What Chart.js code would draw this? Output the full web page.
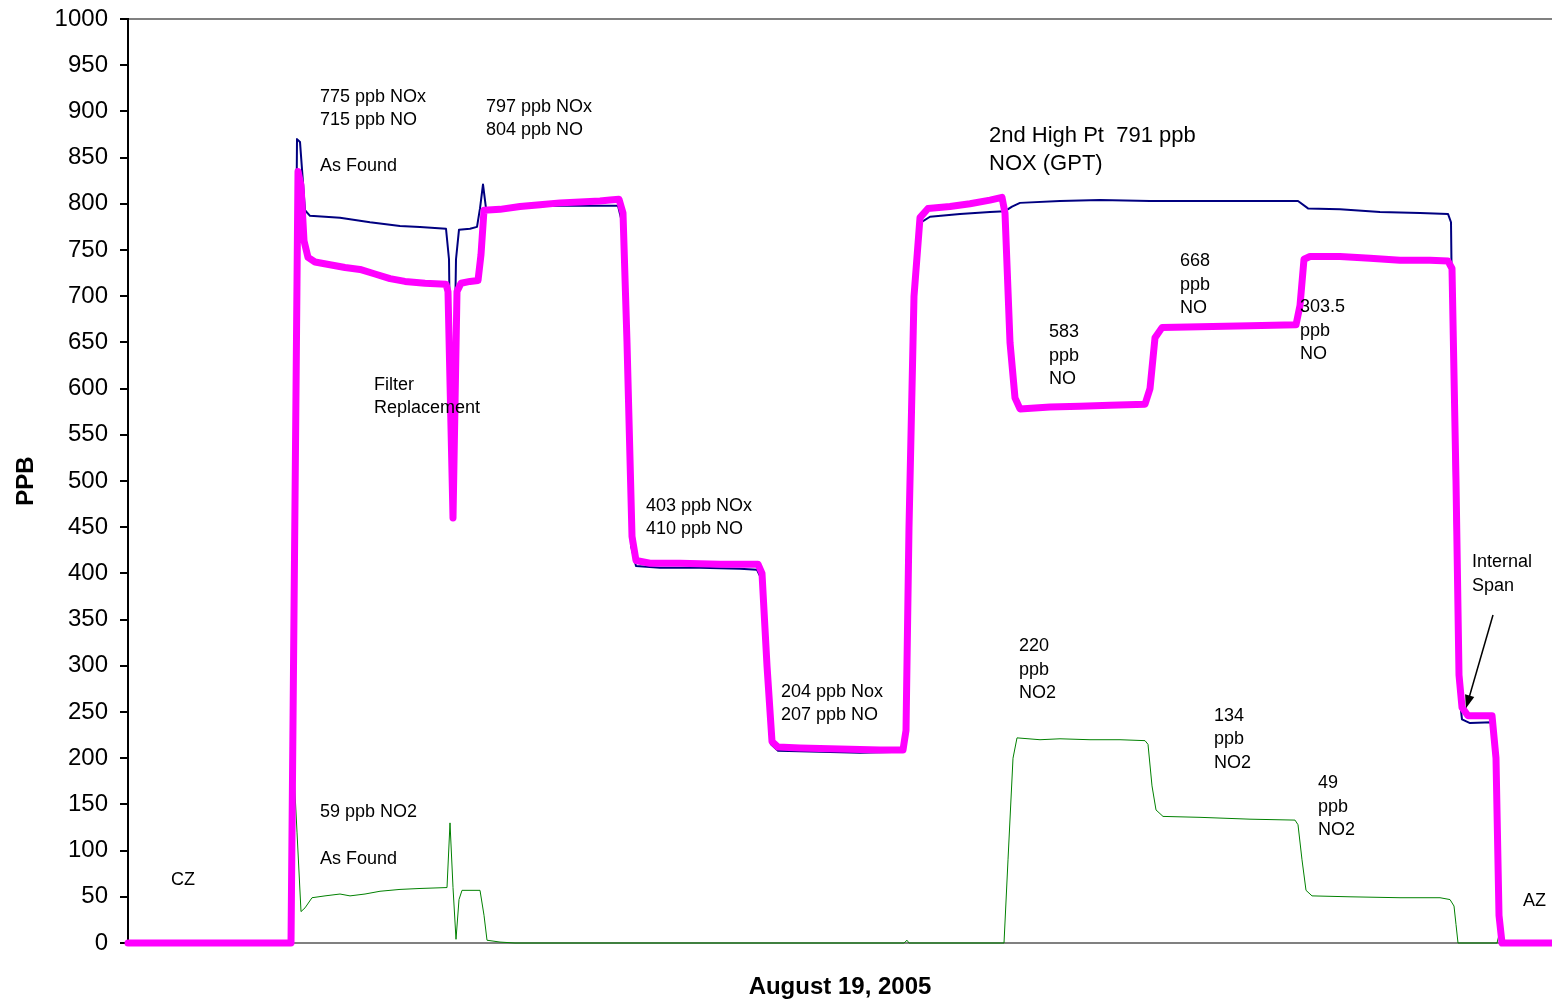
<!DOCTYPE html>
<html>
<head>
<meta charset="utf-8">
<script src="https://cdn.jsdelivr.net/npm/chart.js@4.4.1/dist/chart.umd.min.js"></script>
<style>
  html, body { margin: 0; padding: 0; background: #fff; }
  #wrap { width: 1552px; height: 1003px; position: relative; }
</style>
</head>
<body>
<div id="wrap"><canvas id="container"></canvas></div>
<script>
// time in minutes from start of the record, values in ppb
const timeNO = [0, 40.75, 42.5, 43.25, 44, 45, 46.75, 50.5, 54.25, 58, 61.75, 65.5, 69.25, 74.25, 79.5, 80, 81.25, 82.25, 83.25, 85.5, 87.5, 88.25, 89, 93, 98, 103, 108, 113, 118, 120.5, 122.75, 123.75, 124.75, 126, 127, 130.5, 138, 148, 157.5, 158.5, 159.75, 161, 162.5, 168, 178, 188, 193.75, 194.5, 195.25, 196.5, 198, 200, 205.5, 210.5, 215.5, 218.5, 219.25, 220.5, 221.75, 223, 230.5, 238, 245.5, 254.25, 255.5, 256.75, 258.5, 268, 280.5, 292, 293, 294, 295.5, 303, 310.5, 318, 325.5, 330, 331, 332, 332.75, 333.5, 335, 341, 342, 342.75, 343.5, 356];
const valueNO = [0, 0, 835, 820, 760, 742, 737, 734, 731, 729, 724, 719, 716, 714, 713, 705, 460, 705, 714, 716, 717, 745, 793, 794, 797, 799, 801, 802, 803, 804, 805, 790, 650, 440, 414, 411, 411, 410, 410, 400, 300, 218, 212, 211, 210, 209, 209, 230, 450, 700, 785, 795, 797, 800, 804, 807, 790, 650, 590, 578, 580, 581, 582, 583, 600, 655, 666, 667, 668, 669, 690, 740, 743, 743, 741, 739, 739, 738, 730, 500, 290, 255, 246, 246, 200, 30, 0, 0];

const timeNOx = [0, 40.75, 42.25, 43, 44.25, 45.5, 53, 60.5, 68, 73, 79.5, 80.25, 81, 82, 82.75, 85.5, 87.25, 88, 88.75, 89.5, 93, 98, 108, 118, 122.5, 123.5, 124.5, 125.75, 127, 133, 143, 153, 157.25, 158.25, 159.5, 160.75, 162.5, 173, 183, 193.75, 194.5, 195.5, 196.75, 198.25, 200.5, 208, 215.5, 219.25, 221, 223, 233, 243, 255.5, 268, 280.5, 292.5, 295, 303, 313, 323, 330, 330.75, 331.5, 332.5, 333.5, 335.5, 341, 342, 342.75, 343.5, 356];
const valueNOx = [0, 0, 870, 867, 793, 787, 785, 780, 776, 775, 773, 740, 470, 740, 772, 773, 775, 795, 821, 795, 796, 797, 798, 798, 798, 780, 640, 430, 408, 406, 406, 405, 404, 395, 300, 215, 208, 207, 206, 207, 230, 460, 710, 780, 786, 789, 791, 792, 797, 801, 803, 804, 803, 803, 803, 803, 795, 794, 791, 790, 789, 780, 500, 280, 242, 238, 239, 200, 30, 0, 0];

const timeNO2 = [0, 40.25, 41, 41.5, 42.25, 43.25, 44.25, 46, 49.25, 53, 55.5, 59.25, 63, 68, 73, 79.75, 80.5, 81.25, 82, 82.75, 83.5, 88, 89, 89.75, 93, 96.75, 194, 194.75, 195.25, 219, 220, 221.25, 222.25, 228, 233, 240.5, 248, 254.25, 255, 256, 257, 258.75, 268, 280.5, 291.75, 292.5, 293.5, 294.5, 296, 305.5, 318, 328, 330.5, 331.5, 332, 332.5, 342.25, 343, 343.75, 356];
const valueNO2 = [0, 0, 30, 184, 120, 34, 38, 49, 51, 53, 51, 53, 56, 58, 59, 60, 130, 60, 4, 47, 57, 57, 30, 3, 1, 0, 0, 3, 0, 0, 90, 200, 222, 220, 221, 220, 220, 219, 215, 170, 144, 137, 136, 134, 133, 128, 90, 57, 51, 50, 49, 49, 47, 40, 20, 0, 0, 13, 0, 0];

const yTicks = [0, 1000, 50];

// text notes placed at (minute, ppb) of their first line
const notes = [
  { lines: ['775 ppb NOx', '715 ppb NO'], t: 48, v: 916 },
  { lines: ['As Found'], t: 48, v: 841 },
  { lines: ['797 ppb NOx', '804 ppb NO'], t: 89.5, v: 905 },
  { lines: ['2nd High Pt  791 ppb', 'NOX (GPT)'], t: 215.25, v: 873, big: true },
  { lines: ['668', 'ppb', 'NO'], t: 263, v: 738 },
  { lines: ['583', 'ppb', 'NO'], t: 230.25, v: 661 },
  { lines: ['303.5', 'ppb', 'NO'], t: 293, v: 688 },
  { lines: ['Filter', 'Replacement'], t: 61.5, v: 604 },
  { lines: ['403 ppb NOx', '410 ppb NO'], t: 129.5, v: 473 },
  { lines: ['Internal', 'Span'], t: 336, v: 412 },
  { lines: ['204 ppb Nox', '207 ppb NO'], t: 163.25, v: 272 },
  { lines: ['220', 'ppb', 'NO2'], t: 222.75, v: 321 },
  { lines: ['134', 'ppb', 'NO2'], t: 271.5, v: 246 },
  { lines: ['49', 'ppb', 'NO2'], t: 297.5, v: 173 },
  { lines: ['59 ppb NO2'], t: 48, v: 142 },
  { lines: ['As Found'], t: 48, v: 91 },
  { lines: ['CZ'], t: 10.75, v: 68 },
  { lines: ['AZ'], t: 348.75, v: 45 }
];
// arrow from the "Internal Span" note to the NO trace
const arrowFrom = { t: 341.25, v: 355 };
const arrowTo = { t: 334.5, v: 254 };

const FONT = '"Liberation Sans", Arial, sans-serif';

const pts = (ts, vs) => ts.map((t, i) => ({ x: t, y: vs[i] }));

const notesPlugin = {
  id: 'notes',
  afterDatasetsDraw(chart) {
    const { ctx, scales: { x, y } } = chart;
    ctx.save();
    ctx.fillStyle = '#000';
    ctx.textBaseline = 'middle';
    ctx.textAlign = 'left';
    notes.forEach((n) => {
      const size = n.big ? 22 : 18;
      const gap = n.big ? 28 : 23.5;
      ctx.font = size + 'px ' + FONT;
      const px = x.getPixelForValue(n.t);
      const py = y.getPixelForValue(n.v);
      n.lines.forEach((line, i) => ctx.fillText(line, px, py + i * gap));
    });

    // arrow
    const x1 = x.getPixelForValue(arrowFrom.t), y1 = y.getPixelForValue(arrowFrom.v);
    const x2 = x.getPixelForValue(arrowTo.t), y2 = y.getPixelForValue(arrowTo.v);
    const ang = Math.atan2(y2 - y1, x2 - x1);
    const head = 14;
    ctx.strokeStyle = '#000';
    ctx.lineWidth = 1.5;
    ctx.beginPath();
    ctx.moveTo(x1, y1);
    ctx.lineTo(x2 - Math.cos(ang) * head * 0.8, y2 - Math.sin(ang) * head * 0.8);
    ctx.stroke();
    ctx.beginPath();
    ctx.moveTo(x2, y2);
    ctx.lineTo(x2 - head * Math.cos(ang - 0.35), y2 - head * Math.sin(ang - 0.35));
    ctx.lineTo(x2 - head * Math.cos(ang + 0.35), y2 - head * Math.sin(ang + 0.35));
    ctx.closePath();
    ctx.fillStyle = '#000';
    ctx.fill();
    ctx.restore();
  }
};

const data = {
  datasets: [
    {
      label: 'NO',
      data: pts(timeNO, valueNO),
      borderColor: '#FF00FF',
      borderWidth: 7,
      clip: 8,
    },
    {
      label: 'NOx',
      data: pts(timeNOx, valueNOx),
      borderColor: '#000080',
      borderWidth: 2,
      clip: 8,
    },
    {
      label: 'NO2',
      data: pts(timeNO2, valueNO2),
      borderColor: '#008000',
      borderWidth: 1,
      clip: 8,
    },
  ],
};

const config = {
  type: 'line',
  data: data,
  options: {
    responsive: true,
    maintainAspectRatio: false,
    animation: { duration: 0 },
    layout: { padding: { top: 19, right: 0, bottom: 0, left: 0 } },
    elements: {
      point: { radius: 0 },
      line: { tension: 0, borderJoinStyle: 'round', borderCapStyle: 'round', fill: false },
    },
    plugins: {
      legend: { display: false },
      tooltip: { enabled: false },
    },
    scales: {
      x: {
        type: 'linear',
        min: 0,
        max: 356,
        grid: { display: false, drawTicks: false },
        border: { display: true, color: '#808080', width: 2 },
        ticks: { display: false },
        title: {
          display: true,
          text: 'August 19, 2005',
          color: '#000',
          font: { family: FONT, size: 24, weight: 'bold' },
          padding: { top: 32, bottom: 1 },
        },
        afterFit: (scale) => { scale.height = 60; },
      },
      y: {
        min: yTicks[0],
        max: yTicks[1],
        ticks: {
          stepSize: yTicks[2],
          color: '#000',
          padding: 12,
          font: { family: FONT, size: 24 },
          callback: (v) => String(v),
        },
        grid: {
          color: (c) => (c.tick && c.tick.value === 1000 ? '#808080' : 'rgba(0,0,0,0)'),
          tickColor: '#000',
          lineWidth: 2,
          tickLength: 8,
          drawTicks: true,
        },
        border: { display: true, color: '#000', width: 2 },
        title: {
          display: true,
          text: 'PPB',
          color: '#000',
          font: { family: FONT, size: 24, weight: 'bold' },
          padding: { top: 12, bottom: 0 },
        },
        afterFit: (scale) => {
          scale.width = 128;
          scale.paddingTop = 0;
          scale.paddingBottom = 0;
        },
      },
    },
  },
  plugins: [notesPlugin],
};

const chart = new Chart(document.getElementById('container'), config);
</script>
</body>
</html>
